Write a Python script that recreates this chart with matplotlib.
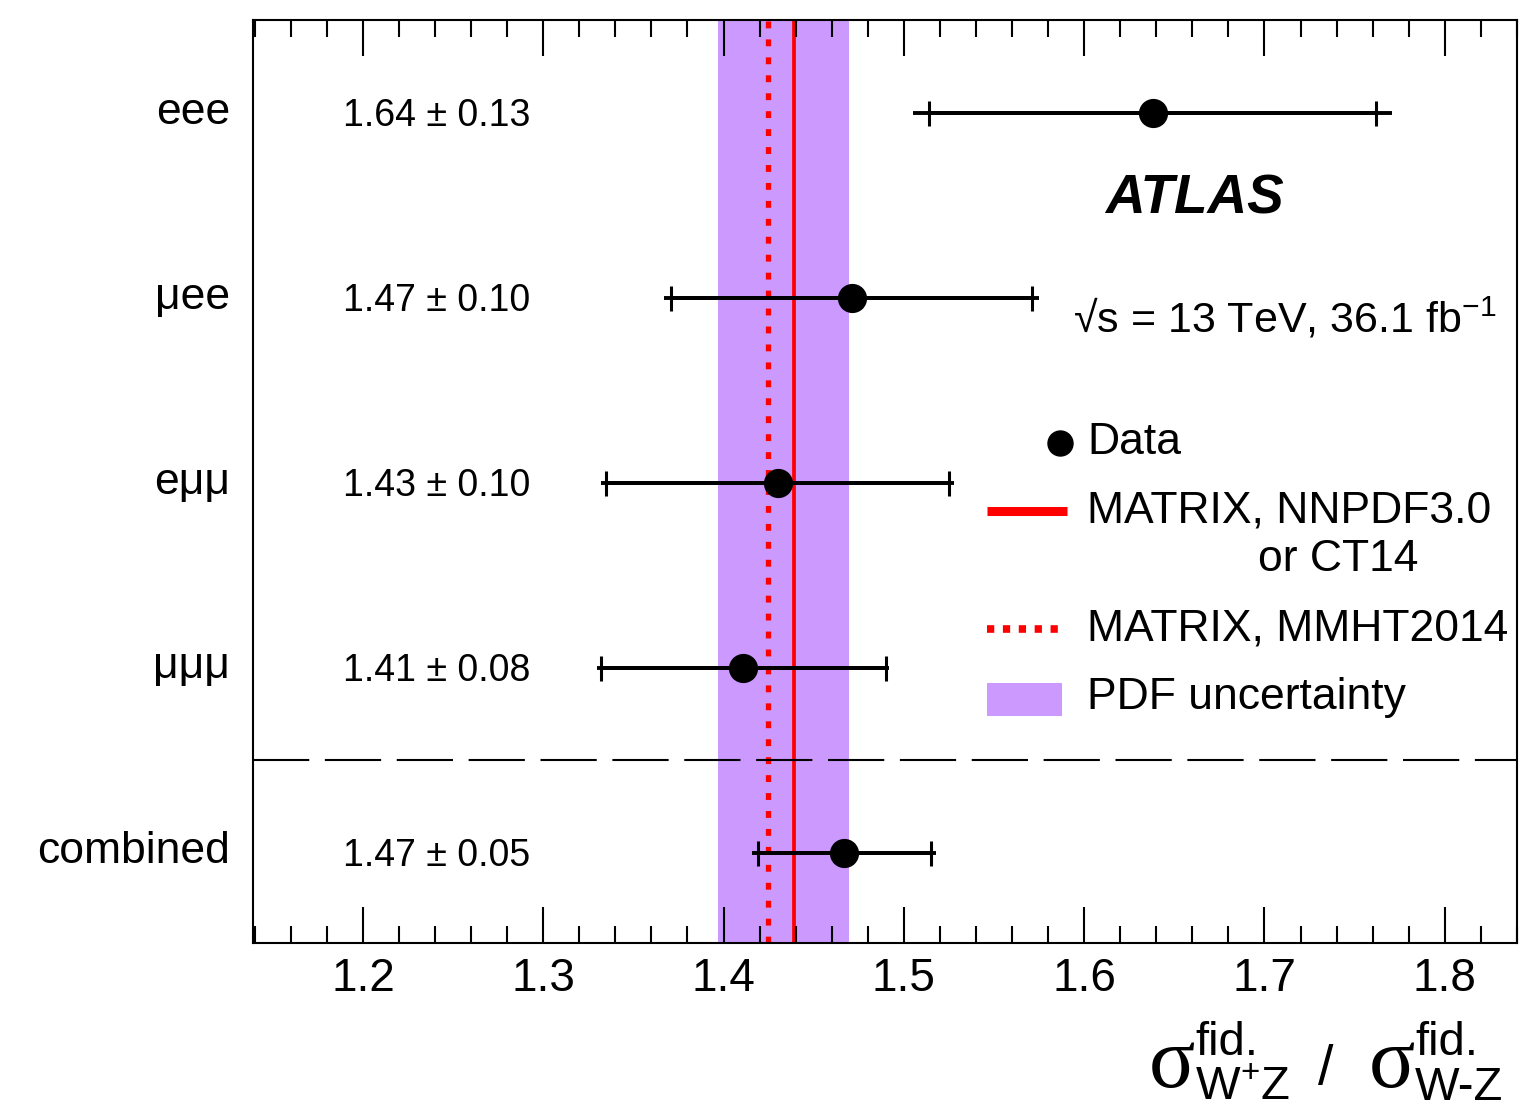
import numpy as np
import matplotlib
matplotlib.use("Agg")
import matplotlib.pyplot as plt
import matplotlib as mpl
from matplotlib.patches import Rectangle

mpl.rc("font", family=["Liberation Sans", "DejaVu Sans"], size=30)
mpl.rc("mathtext", fontset="custom", rm="Liberation Sans",
       it="Liberation Sans:italic", bf="Liberation Sans:bold")

# ----- data -----
channels = ["eee", "μee", "eμμ", "μμμ", "combined"]
row_pos = [5, 4, 3, 2, 1]
ratio = [1.638, 1.471, 1.430, 1.411, 1.467]
total_err = [0.133, 0.104, 0.098, 0.081, 0.051]
stat_err = [0.124, 0.100, 0.095, 0.079, 0.048]
value_labels = ["1.64 ± 0.13", "1.47 ± 0.10", "1.43 ± 0.10", "1.41 ± 0.08", "1.47 ± 0.05"]

pred_nnpdf = 1.439
pred_mmht = 1.4246
pdf_band = [1.397, 1.4695]

xlim = [1.139, 1.840]
ylim = [0.513, 5.503]
purple = "#cc99ff"

# ----- plot -----
fig = plt.figure(figsize=(15.21, 11.10), dpi=100)
ax = fig.add_axes([0.1663, 0.1505, 0.8310, 0.8315])

ax.axvspan(pdf_band[0], pdf_band[1], color=purple, lw=0, zorder=0)
ax.axvline(pred_nnpdf, color="red", lw=2.7, zorder=1)
ax.axvline(pred_mmht, color="red", lw=3.8, dashes=(1.3, 2.1), zorder=1)

# separator between channels and combination
ax.axhline(1.5, color="black", lw=1.5, dashes=(27, 7.5), zorder=1)

# total uncertainty (line) and statistical (ticks)
ax.errorbar(ratio, row_pos, xerr=total_err, fmt="none", ecolor="black",
            elinewidth=2.8, capsize=0, zorder=3)
ax.errorbar(ratio, row_pos, xerr=stat_err, fmt="o", color="black", ms=20,
            elinewidth=2.8, capsize=9, capthick=2.2, zorder=4)

ax.set_xlim(xlim)
ax.set_ylim(ylim)
ax.set_xticks(np.arange(1.2, 1.81, 0.1))
ax.set_xticklabels([f"{v:.1f}" for v in np.arange(1.2, 1.81, 0.1)])
ax.set_xticks(np.arange(1.14, 1.84, 0.02), minor=True)
ax.set_yticks([])
ax.tick_params(axis="x", which="both", direction="in", top=True, bottom=True,
               width=1.5, labelsize=33, pad=10)
ax.tick_params(axis="x", which="major", length=26)
ax.tick_params(axis="x", which="minor", length=12)
for sp in ax.spines.values():
    sp.set_linewidth(1.5)

ytrans = ax.get_yaxis_transform()
for name, y, lab in zip(channels, row_pos, value_labels):
    ax.text(-0.018, y + 0.005, name, transform=ytrans, ha="right", va="center", fontsize=32)
    ax.text(0.0712, y - 0.015, lab, transform=ytrans, ha="left", va="center", fontsize=27)

# labels
ax.text(0.674, 0.805, "ATLAS", transform=ax.transAxes, fontsize=39.5,
        fontweight="bold", fontstyle="italic", va="center")
ax.text(0.6487, 0.676, "√s = 13 TeV, 36.1 fb$^{\\mathregular{-1}}$",
        transform=ax.transAxes, fontsize=31, va="center")

# legend
tA = ax.transAxes
ax.plot([0.6384], [0.5417], "o", color="black", ms=18, transform=tA, clip_on=False)
ax.plot([0.5807, 0.6440], [0.468, 0.468], color="red", lw=6.5, transform=tA,
        solid_capstyle="butt")
ax.plot([0.5807, 0.6408], [0.3402, 0.3402], color="red", lw=5.5, transform=tA,
        dashes=(0.95, 1.13), dash_capstyle="butt")
ax.add_patch(Rectangle((0.5807, 0.2459), 0.0593, 0.0358, transform=tA,
                       facecolor=purple, edgecolor="none"))
leg_fs = 32
ax.text(0.6598, 0.5417, "Data", transform=tA, va="center", fontsize=leg_fs)
ax.text(0.6598, 0.468, "MATRIX, NNPDF3.0", transform=tA, va="center", fontsize=leg_fs)
ax.text(0.7951, 0.415, "or CT14", transform=tA, va="center", fontsize=leg_fs)
ax.text(0.6598, 0.3402, "MATRIX, MMHT2014", transform=tA, va="center", fontsize=leg_fs)
ax.text(0.6598, 0.2654, "PDF uncertainty", transform=tA, va="center", fontsize=leg_fs)

# x axis title: sigma_fid(W+Z) / sigma_fid(W-Z)
sig_fs = 62
sub_fs = 34
fig.text(0.7554, 0.0207, "σ", family="Liberation Serif", fontsize=sig_fs, va="baseline")
fig.text(0.7857, 0.0495, "fid.", fontsize=sub_fs, va="baseline")
fig.text(0.7857, 0.0090, "W$^{\\mathregular{+}}$Z", fontsize=sub_fs, va="baseline")
fig.text(0.8665, 0.0230, "/", fontsize=40, va="baseline")
fig.text(0.9000, 0.0207, "σ", family="Liberation Serif", fontsize=sig_fs, va="baseline")
fig.text(0.9303, 0.0495, "fid.", fontsize=sub_fs, va="baseline")
fig.text(0.9303, 0.0090, "W-Z", fontsize=sub_fs, va="baseline")

fig.savefig("out.png", dpi=100, facecolor="white")
